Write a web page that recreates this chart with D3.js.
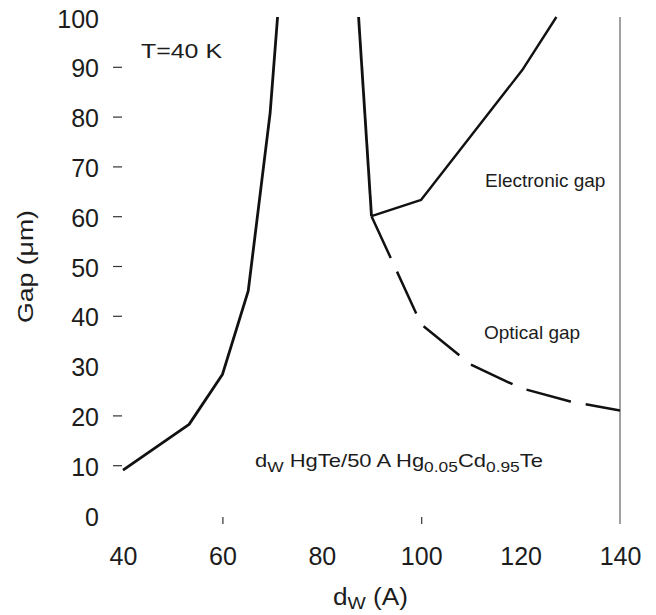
<!DOCTYPE html>
<html><head><meta charset="utf-8">
<script src="https://cdn.jsdelivr.net/npm/d3@7"></script>
<style>
body{margin:0;background:#fff}
svg text{font-family:"Liberation Sans",Arial,Helvetica,sans-serif;fill:#1c1c1c}
</style></head><body>
<svg id="chart" width="656" height="615"></svg>
<script>
// Axis tick values
const xTicks = [40, 60, 80, 100, 120, 140];
const xTickMarks = [60, 100];
const yTicks = [0, 10, 20, 30, 40, 50, 60, 70, 80, 90, 100];
const yTickMarks = [10, 20, 40, 50, 60, 70, 80, 90];

// Gap (µm) versus well width d_W (Å)
const leftBranch = [[40, 9], [53.3, 18.2], [60, 28.2], [65.2, 45], [69.6, 80.7], [71.1, 100]];
const rightBranch = [[87.4, 100], [90, 60]];
const electronicGap = [[90, 60], [100, 63.3], [120.3, 89.3], [127.2, 100]];
const opticalGap = [[90, 60], [100, 38.3], [110, 30.2], [120, 25.5], [130, 22.8], [140, 21]];

const svg = d3.select("#chart");
const x = d3.scaleLinear().domain([40, 140]).range([123, 620]);
const y = d3.scaleLinear().domain([0, 100]).range([515, 17]);
const axisY = 524;

// y axis: labels for every decade, short marks for a subset
const gy = svg.append("g").attr("transform", `translate(${x(40)},0)`)
  .call(d3.axisLeft(y).tickValues(yTicks).tickSize(10).tickPadding(14));
gy.select(".domain").remove();
gy.selectAll(".tick line")
  .attr("x2", -10).attr("x1", -1)
  .attr("stroke", "#333").attr("stroke-width", 1.2)
  .style("display", d => yTickMarks.includes(d) ? null : "none");
gy.selectAll(".tick text")
  .attr("font-size", 25).attr("font-family", null).attr("dy", "0.4em");
gy.attr("font-size", null).attr("font-family", null);

// x axis: labels under the plot, upward marks at 60 and 100
const gx = svg.append("g").attr("transform", `translate(0,${axisY})`)
  .call(d3.axisBottom(x).tickValues(xTicks).tickSize(-7).tickPadding(23));
gx.select(".domain").remove();
gx.selectAll(".tick line")
  .attr("stroke", "#333").attr("stroke-width", 1.2)
  .style("display", d => xTickMarks.includes(d) ? null : "none");
gx.selectAll(".tick text").attr("font-size", 25).attr("font-family", null);
gx.attr("font-size", null).attr("font-family", null);

// vertical reference line at d_W = 140
svg.append("line")
  .attr("x1", x(140)).attr("x2", x(140))
  .attr("y1", y(100)).attr("y2", axisY)
  .attr("stroke", "#6e6e6e").attr("stroke-width", 1.3);

const line = d3.line().x(d => x(d[0])).y(d => y(d[1]));
const curves = [
  {data: leftBranch, w: 2.8, dash: null},
  {data: rightBranch, w: 2.8, dash: null},
  {data: electronicGap, w: 2.4, dash: null},
  {data: opticalGap, w: 2.5, dash: "46,15"}
];
svg.selectAll("path.curve").data(curves).join("path")
  .attr("class", "curve")
  .attr("d", d => line(d.data))
  .attr("fill", "none").attr("stroke", "#111")
  .attr("stroke-width", d => d.w)
  .attr("stroke-linejoin", "round")
  .attr("stroke-dasharray", d => d.dash);

// annotations
svg.append("text").attr("x", 141).attr("y", 58).attr("font-size", 21)
  .attr("textLength", 81).attr("lengthAdjust", "spacingAndGlyphs").text("T=40 K");
svg.append("text").attr("x", 485).attr("y", 187).attr("font-size", 19).text("Electronic gap");
svg.append("text").attr("x", 484).attr("y", 339).attr("font-size", 19).text("Optical gap");

const note = svg.append("text").attr("x", 255).attr("y", 467).attr("font-size", 19)
  .attr("textLength", 288).attr("lengthAdjust", "spacingAndGlyphs");
const noteParts = [["d", 0], ["W", 1], [" HgTe/50 A Hg", 0], ["0.05", 1], ["Cd", 0], ["0.95", 1], ["Te", 0]];
let prevSub = 0;
noteParts.forEach(([t, sub]) => {
  note.append("tspan").attr("font-size", sub ? 15 : 19)
    .attr("dy", sub === prevSub ? 0 : (sub ? 5 : -5)).text(t);
  prevSub = sub;
});

// axis titles
const xt = svg.append("text").attr("x", 333).attr("y", 605).attr("font-size", 23)
  .attr("textLength", 75).attr("lengthAdjust", "spacingAndGlyphs");
xt.append("tspan").text("d");
xt.append("tspan").attr("font-size", 17).attr("dy", 4).text("W");
xt.append("tspan").attr("dy", -4).text(" (A)");

svg.append("text")
  .attr("transform", "translate(33,266.5) rotate(-90)")
  .attr("text-anchor", "middle").attr("font-size", 22)
  .attr("textLength", 113).attr("lengthAdjust", "spacingAndGlyphs")
  .text("Gap (\u03bcm)");
</script></body></html>
